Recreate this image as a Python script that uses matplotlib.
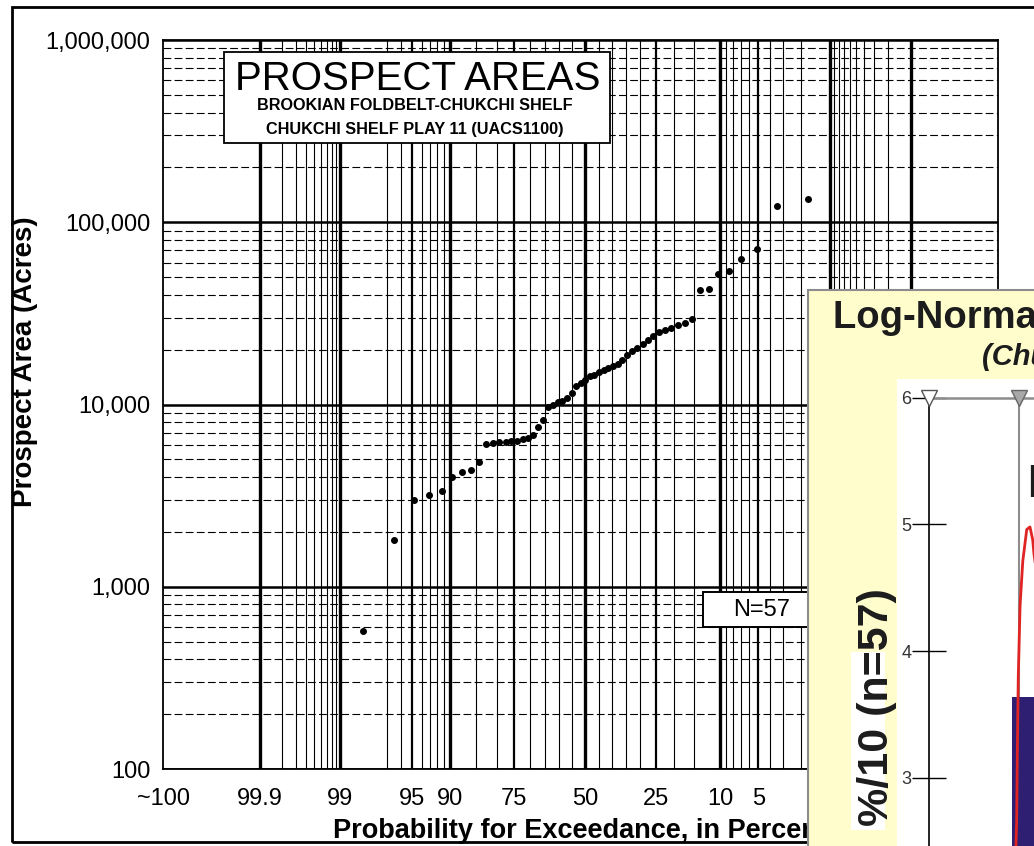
import math
from statistics import NormalDist
import numpy as np
import matplotlib
matplotlib.use('Agg')
import matplotlib.pyplot as plt
from matplotlib.patches import Rectangle
from matplotlib.ticker import FixedLocator, NullFormatter

plt.rcParams['font.family'] = ['Liberation Sans', 'DejaVu Sans']

# prospect areas in acres, largest first
areas = [133700, 122500, 71100, 62700, 53800, 51800, 42800, 42300, 29300, 27900,
         27200, 26200, 25500, 24900, 23700, 22500, 21400, 20300, 19600, 18800,
         17500, 16600, 16200, 15800, 15400, 15000, 14600, 14300, 13700, 13200,
         12700, 11600, 10800, 10500, 10300, 9900, 9750, 8170, 7480, 6840,
         6590, 6430, 6300, 6270, 6250, 6200, 6150, 6100, 4860, 4390,
         4280, 4020, 3370, 3200, 3000, 1800, 570]

# probability axis
x_ticks = [99.997, 99.9, 99, 95, 90, 75, 50, 25, 10, 5, 1, 0.1]
x_labels = ['~100', '99.9', '99', '95', '90', '75', '50', '25', '10', '5', '1', '0.1']
y_ticks = [100, 1000, 10000, 100000, 1000000]
y_labels = ['100', '1,000', '10,000', '100,000', '1,000,000']

grid_heavy = [99.9, 99, 90, 50, 10, 1, 0.1]
grid_mid = [95, 75, 25, 5]
grid_light = [99.8, 99.7, 99.6, 99.5, 99.4, 99.3, 99.2, 99.1, 97, 96, 94, 93, 92, 91,
              85, 80, 70, 65, 60, 55, 45, 40, 35, 30, 20, 15, 9, 8, 7, 6, 4, 3, 2,
              0.9, 0.8, 0.7, 0.6, 0.5, 0.4, 0.3, 0.2]

# overlapping log-normal panel (only its left edge is visible)
inset_ticks = [3, 4, 5, 6]
marker_x = [2.0, 2.5]
bar_left = [2.46]
bar_height = [3.64]
curve_x = [2.483, 2.487, 2.491, 2.496, 2.506, 2.521, 2.543, 2.561, 2.576, 2.583, 2.617, 2.672]
curve_y = [2.46, 2.66, 3.23, 3.80, 4.36, 4.71, 4.96, 4.98, 4.88, 4.77, 4.40, 3.93]

W, H = 1034, 846
fx = lambda x: x / W
fy = lambda y: 1 - y / H

nd = NormalDist()
_ppf = np.vectorize(lambda v: nd.inv_cdf(v / 100.0), otypes=[float])
_cdf = np.vectorize(lambda v: 50.0 * (1 + math.erf(v / math.sqrt(2))), otypes=[float])


def fwd(p):
    p = np.clip(np.asarray(p, dtype=float), 1e-7, 100 - 1e-7)
    return _ppf(p)


def inv(z):
    return _cdf(np.asarray(z, dtype=float))


n = len(areas)
exceed = 100.0 * np.arange(1, n + 1) / (n + 1)

fig = plt.figure(figsize=(W / 100, H / 100), dpi=100)

ax = fig.add_axes([fx(163), fy(769), (998 - 163) / W, (769 - 40) / H])
ax.set_xscale('function', functions=(fwd, inv))
ax.set_yscale('log')

for p in grid_light:
    ax.axvline(p, color='black', lw=0.8, zorder=1)
for p in grid_mid:
    ax.axvline(p, color='black', lw=1.6, zorder=1)
for p in grid_heavy:
    ax.axvline(p, color='black', lw=2.4, zorder=1)

ax.plot(exceed, areas, 'o', color='black', ms=4, zorder=3)

ax.set_xlim(99.997, 0.0044)
ax.set_ylim(100, 1000000)
ax.xaxis.set_major_locator(FixedLocator(x_ticks))
ax.set_xticklabels(x_labels)
ax.xaxis.set_minor_formatter(NullFormatter())
ax.yaxis.set_major_locator(FixedLocator(y_ticks))
ax.set_yticklabels(y_labels)
ax.yaxis.set_minor_formatter(NullFormatter())
ax.tick_params(axis='both', which='both', length=0, labelsize=17)
ax.tick_params(axis='x', pad=14)
ax.tick_params(axis='y', pad=9)
ax.grid(which='major', axis='y', color='black', lw=1.8)
ax.grid(which='minor', axis='y', color='black', lw=0.8, ls=(0, (7, 3)))
for s in ax.spines.values():
    s.set_linewidth(1.3)

fig.text(fx(25), fy(362), 'Prospect Area (Acres)', rotation=90, ha='center',
         va='center', fontsize=20, weight='bold')
fig.text(fx(580), fy(831), 'Probability for Exceedance, in Percent', ha='center',
         va='center', fontsize=19.5, weight='bold', zorder=3)

# title box
fig.add_artist(Rectangle((fx(224), fy(143)), (610 - 224) / W, (143 - 52) / H,
                         transform=fig.transFigure, fc='white', ec='black', lw=1.3, zorder=4))
fig.text(fx(418), fy(79), 'PROSPECT AREAS', ha='center', va='center', fontsize=29, zorder=5)
fig.text(fx(415), fy(106), 'BROOKIAN FOLDBELT-CHUKCHI SHELF', ha='center', va='center',
         fontsize=11.7, weight='bold', zorder=5)
fig.text(fx(415), fy(129), 'CHUKCHI SHELF PLAY 11 (UACS1100)', ha='center', va='center',
         fontsize=11.7, weight='bold', zorder=5)

# N box
fig.add_artist(Rectangle((fx(703), fy(627)), 130 / W, 35 / H, transform=fig.transFigure,
                         fc='white', ec='black', lw=1.4, zorder=4))
fig.text(fx(762), fy(610), 'N=57', ha='center', va='center', fontsize=17, zorder=5)

# scan frame
fig.add_artist(Rectangle((fx(12), fy(842)), 1.2, (842 - 7) / H, transform=fig.transFigure,
                         fill=False, ec='black', lw=2, zorder=2))

# yellow panel
panel = fig.add_axes([fx(808), -0.05, 0.5, fy(290) + 0.05], zorder=10)
panel.set_facecolor('#FFFDCC')
panel.set_xticks([])
panel.set_yticks([])
for side in ['right', 'bottom']:
    panel.spines[side].set_visible(False)
for side in ['left', 'top']:
    panel.spines[side].set_color('#8C8C8C')
    panel.spines[side].set_linewidth(1.5)
panel.add_patch(Rectangle((fx(897), -0.2), 0.5, fy(379) + 0.2, transform=fig.transFigure,
                          fc='white', ec='none', zorder=1))
panel.add_patch(Rectangle((fx(851), fy(830)), 34 / W, 178 / H, transform=fig.transFigure,
                          fc='white', ec='none', zorder=1))
panel.text(fx(833), fy(318), 'Log-Normal Distribution', transform=fig.transFigure,
           ha='left', va='center', fontsize=27.5, weight='bold', color='#1c1c1c')
panel.text(fx(982), fy(357), '(Chukchi Shelf Play 11)', transform=fig.transFigure,
           ha='left', va='center', fontsize=21, weight='bold', style='italic', color='#1c1c1c')
panel.text(fx(877), fy(707), '%/10 (n=57)', transform=fig.transFigure, rotation=90,
           ha='center', va='center', fontsize=31, weight='bold', color='#1c1c1c', zorder=3)

px_unit = 126.7
ax2 = fig.add_axes([fx(929), fy(397.7 + 6 * px_unit), 720 / W, 6 * px_unit / H], zorder=12)
ax2.set_facecolor('none')
ax2.set_xlim(2, 6)
ax2.set_ylim(0, 6)
ax2.bar(bar_left, bar_height, width=0.3, align='edge', color='#2E1F72', zorder=2)
ax2.axvline(marker_x[1], color='#8C8C8C', lw=1.5, zorder=1)
ax2.plot(curve_x, curve_y, color='#E02424', lw=2, zorder=3)
ax2.plot(marker_x[:1], [6], marker='v', ms=11, mfc='white', mec='#555555', ls='none',
         clip_on=False, zorder=5)
ax2.plot(marker_x[1:], [6], marker='v', ms=11, mfc='#A8A8A8', mec='#666666', ls='none',
         clip_on=False, zorder=5)
ax2.text(2.54, 5.31, 'Mean', ha='left', va='center', fontsize=34, color='#1c1c1c')
ax2.set_xticks([])
ax2.set_yticks(inset_ticks)
ax2.tick_params(axis='y', direction='inout', length=24, width=1, pad=0.5,
                labelsize=13, labelcolor='#333333')
ax2.spines['right'].set_visible(False)
ax2.spines['bottom'].set_visible(False)
ax2.spines['left'].set_color('black')
ax2.spines['left'].set_linewidth(1.2)
ax2.spines['top'].set_color('#8C8C8C')
ax2.spines['top'].set_linewidth(1.8)

fig.savefig('out.png', dpi=100)
